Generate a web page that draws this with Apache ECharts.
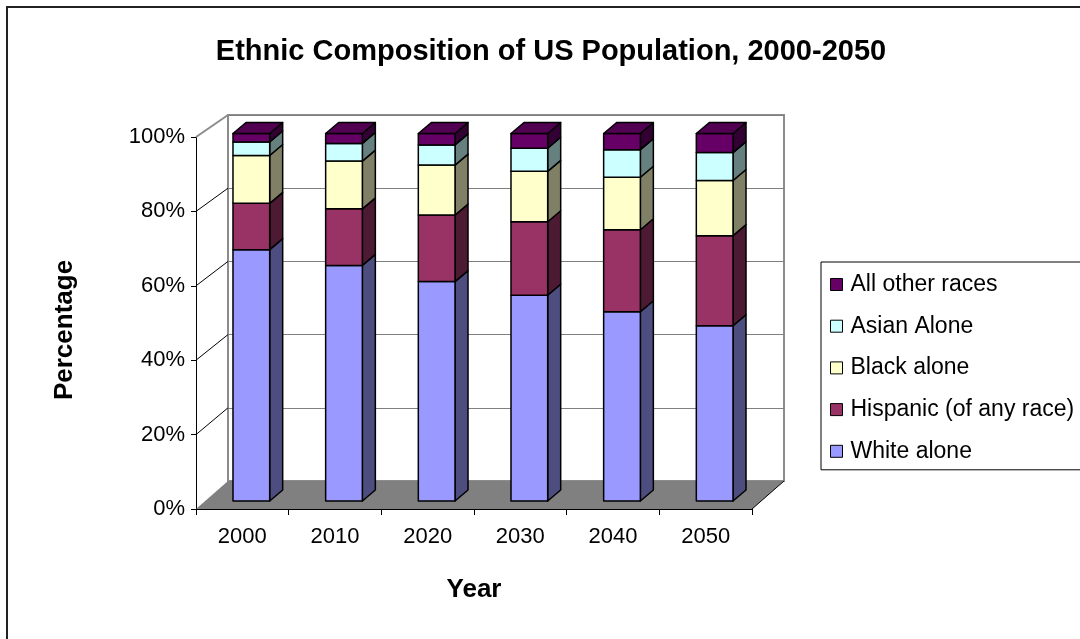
<!DOCTYPE html>
<html><head><meta charset="utf-8">
<script src="https://cdn.jsdelivr.net/npm/echarts@6/dist/echarts.min.js"></script>
<style>html,body{margin:0;padding:0;background:#fff}#c{width:1080px;height:639px}</style>
</head><body><div id="c"></div>
<script>
// ---- data ----
const years = ['2000', '2010', '2020', '2030', '2040', '2050'];
const seriesNames = ['White alone', 'Hispanic (of any race)', 'Black alone', 'Asian Alone', 'All other races'];
const whiteAlone = [68.4, 64.1, 59.7, 56.0, 51.5, 47.7];
const hispanic   = [12.6, 15.4, 18.1, 20.0, 22.3, 24.5];
const blackAlone = [13.0, 13.0, 13.6, 13.7, 14.3, 15.0];
const asianAlone = [3.7, 4.8, 5.5, 6.3, 7.5, 7.6];
const otherRaces = [2.3, 2.7, 3.1, 4.0, 4.4, 5.2];
const yTicks = [0, 20, 40, 60, 80, 100];

// ---- layout / style ----
const FONT = '"Liberation Sans", Arial, sans-serif';
const FRONT = {left: 196, top: 137, width: 556, height: 372};
const BACK  = {left: 228, top: 115, width: 556, height: 366};
const BARS  = {left: 205, top: 133.5, width: 556, height: 367.5};
const DEPTH = [13, -11];
const BAR_FRAC = 0.396;
const FRONT_COLORS = ['#9999FF', '#993366', '#FFFFCC', '#CCFFFF', '#660066'];
const SIDE_COLORS  = ['#4D4D80', '#4D1A33', '#808066', '#668080', '#330033'];
const TOP_COLOR = '#520052';

const chart = echarts.init(document.getElementById('c'), null, {renderer: 'canvas'});

function makeRender(k, isTop) {
  return function (params, api) {
    const i = api.value(0);
    const b = api.coord([i, api.value(1)]);
    const t = api.coord([i, api.value(2)]);
    const w = api.size([1, 0])[0] * BAR_FRAC;
    const x0 = b[0] - w / 2, x1 = b[0] + w / 2, yb = b[1], yt = t[1];
    const dx = DEPTH[0], dy = DEPTH[1];
    const st = (fill) => ({fill: fill, stroke: '#000', lineWidth: 1.5, lineJoin: 'round'});
    const children = [
      {type: 'polygon', shape: {points: [[x1, yt], [x1 + dx, yt + dy], [x1 + dx, yb + dy], [x1, yb]]}, style: st(SIDE_COLORS[k])},
      {type: 'rect', shape: {x: x0, y: yt, width: w, height: yb - yt}, style: st(FRONT_COLORS[k])}
    ];
    if (isTop) {
      children.push({type: 'polygon', shape: {points: [[x0, yt], [x0 + dx, yt + dy], [x1 + dx, yt + dy], [x1, yt]]}, style: st(TOP_COLOR)});
    }
    return {type: 'group', children: children};
  };
}

const values = [whiteAlone, hispanic, blackAlone, asianAlone, otherRaces];
const cum = years.map(() => 0);
const series = values.map((arr, k) => {
  const data = arr.map((v, i) => { const s = cum[i]; cum[i] += v; return [i, s, cum[i]]; });
  return {
    type: 'custom', name: seriesNames[k], xAxisIndex: 2, yAxisIndex: 2, z: 3,
    itemStyle: {color: FRONT_COLORS[k]},
    encode: {x: 0, y: [1, 2]},
    data: data,
    renderItem: makeRender(k, k === values.length - 1)
  };
});

chart.setOption({
  animation: false,
  backgroundColor: '#fff',
  grid: [
    Object.assign({show: false}, FRONT),
    Object.assign({show: true, borderColor: '#8c8c8c', borderWidth: 2, backgroundColor: 'transparent'}, BACK),
    Object.assign({show: false}, BARS)
  ],
  xAxis: [
    {gridIndex: 0, type: 'category', data: years,
     axisLine: {show: true, lineStyle: {color: '#000', width: 1}},
     axisTick: {show: true, length: 6, lineStyle: {color: '#000'}},
     axisLabel: {fontSize: 22, color: '#000', margin: 17, fontFamily: FONT},
     splitLine: {show: false}},
    {gridIndex: 1, type: 'category', data: years, show: false},
    {gridIndex: 2, type: 'category', data: years, show: false}
  ],
  yAxis: [
    {gridIndex: 0, type: 'value', min: 0, max: 100, interval: 20,
     axisLine: {show: true, lineStyle: {color: '#000', width: 1}},
     axisTick: {show: true, length: 5, lineStyle: {color: '#000'}},
     axisLabel: {formatter: '{value}%', fontSize: 22, color: '#000', margin: 11, fontFamily: FONT},
     splitLine: {show: false}},
    {gridIndex: 1, type: 'value', min: 0, max: 100, interval: 20,
     axisLine: {show: false}, axisTick: {show: false}, axisLabel: {show: false},
     splitLine: {show: true, lineStyle: {color: '#808080', width: 1}}},
    {gridIndex: 2, type: 'value', min: 0, max: 100, interval: 20, show: false, splitLine: {show: false}}
  ],
  legend: {
    data: seriesNames.slice().reverse(),
    orient: 'vertical', left: 821, top: 262,
    icon: 'rect', itemWidth: 12, itemHeight: 12, itemGap: 17.7,
    padding: [10.5, 20, 6.5, 9],
    backgroundColor: '#fff', borderColor: '#000', borderWidth: 1, borderRadius: 0,
    selectedMode: false,
    itemStyle: {borderColor: '#000', borderWidth: 1},
    textStyle: {fontSize: 23, color: '#000', lineHeight: 24, fontFamily: FONT, padding: [0, 0, 0, 3]}
  },
  series: series
});

// decorations derived from the axes' own scales
const fy = v => chart.convertToPixel({yAxisIndex: 0}, v);
const by = v => chart.convertToPixel({yAxisIndex: 1}, v);
const graphics = [];
graphics.push({type: 'rect', z: 0, silent: true, shape: {x: 7, y: 7, width: 1200, height: 800},
  style: {fill: 'none', stroke: '#222', lineWidth: 2}});
graphics.push({type: 'polygon', z: 1, silent: true,
  shape: {points: [[FRONT.left, fy(0)], [BACK.left, by(0)], [BACK.left + BACK.width, by(0)], [FRONT.left + FRONT.width, fy(0)]]},
  style: {fill: '#808080'}});
graphics.push({type: 'line', z: 1, silent: true,
  shape: {x1: FRONT.left + FRONT.width, y1: fy(0), x2: BACK.left + BACK.width, y2: by(0)},
  style: {stroke: '#000', lineWidth: 1}});
yTicks.forEach(v => {
  if (v === 0) return;
  graphics.push({type: 'line', z: 1, silent: true,
    shape: {x1: FRONT.left, y1: fy(v), x2: BACK.left, y2: by(v)},
    style: {stroke: v === 100 ? '#8c8c8c' : '#000', lineWidth: v === 100 ? 2 : 1}});
});
graphics.push({type: 'text', z: 5, x: 551, y: 52, style: {text: 'Ethnic Composition of US Population, 2000-2050',
  font: 'bold 29px ' + FONT, fill: '#000', align: 'center', verticalAlign: 'middle'}});
graphics.push({type: 'text', z: 5, x: 65, y: 330, rotation: Math.PI / 2, style: {text: 'Percentage',
  font: 'bold 26px ' + FONT, fill: '#000', align: 'center', verticalAlign: 'middle'}});
graphics.push({type: 'text', z: 5, x: 474, y: 590, style: {text: 'Year',
  font: 'bold 26px ' + FONT, fill: '#000', align: 'center', verticalAlign: 'middle'}});
chart.setOption({graphic: graphics});
</script>
</body></html>
